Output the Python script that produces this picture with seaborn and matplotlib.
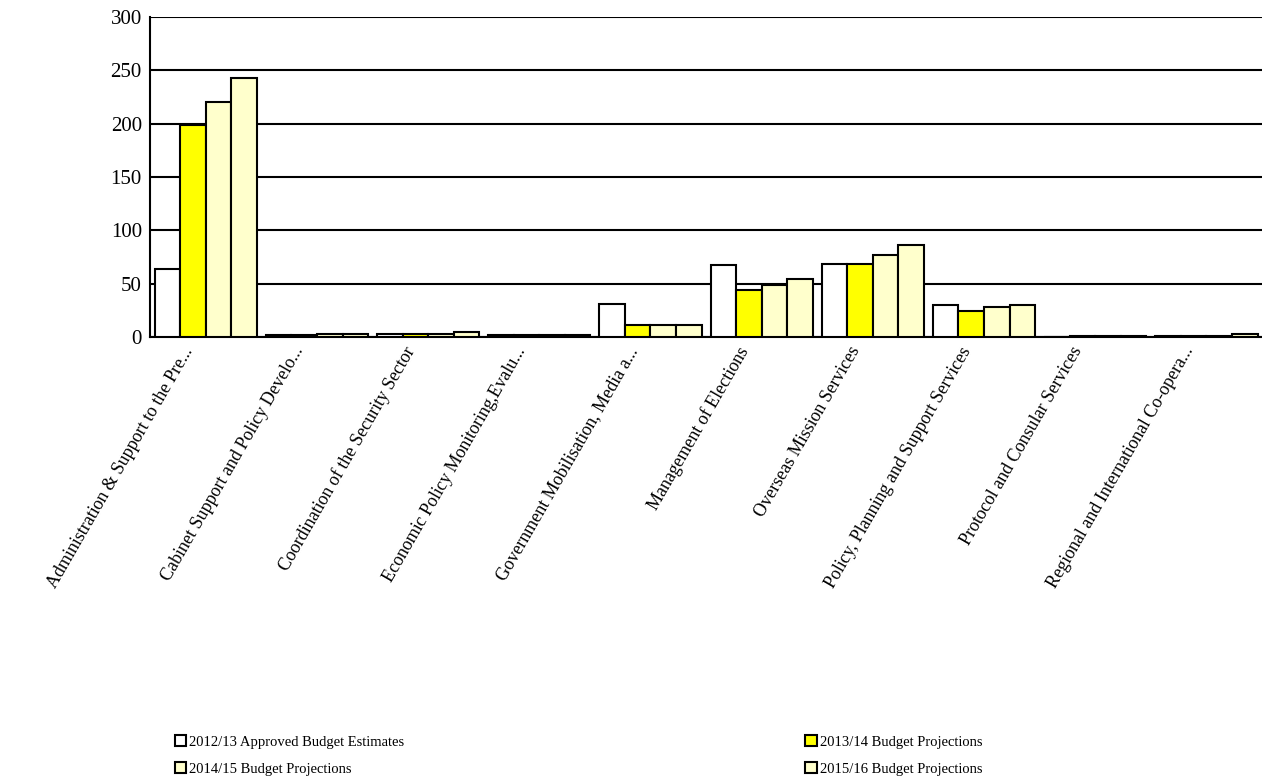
import pandas as pd
import numpy as np
import matplotlib.pyplot as plt
import matplotlib.transforms as mtransforms
import seaborn as sns

# Data
categories = [
    "Administration & Support to the Pre...",
    "Cabinet Support and Policy Develo...",
    "Coordination of the Security Sector",
    "Economic Policy Monitoring,Evalu...",
    "Government Mobilisation, Media a...",
    "Management of Elections",
    "Overseas Mission Services",
    "Policy, Planning and Support Services",
    "Protocol and Consular Services",
    "Regional and International Co-opera...",
]
series = [
    "2012/13 Approved Budget Estimates",
    "2013/14 Budget Projections",
    "2014/15 Budget Projections",
    "2015/16 Budget Projections",
]
est_2012 = [64, 1.5, 3, 1.5, 31, 67, 68, 30, 0, 1]
proj_2013 = [199, 1.5, 3, 1.5, 11, 44, 68, 24, 0.5, 1]
proj_2014 = [220, 3, 3, 1.5, 11, 49, 77, 28, 1, 1]
proj_2015 = [243, 3, 5, 1.5, 11, 54, 86, 30, 1, 3]
colors = ["#FFFFFF", "#FFFF00", "#FFFFCC", "#FFFFCC"]

df = pd.DataFrame({
    "category": np.tile(categories, 4),
    "series": np.repeat(series, len(categories)),
    "value": est_2012 + proj_2013 + proj_2014 + proj_2015,
})

sns.set_style("white")
plt.rcParams["font.family"] = ["Liberation Serif", "DejaVu Serif"]
plt.rcParams["text.color"] = "black"
plt.rcParams["xtick.color"] = "black"
plt.rcParams["ytick.color"] = "black"

fig, ax = plt.subplots(figsize=(12.62, 7.78), dpi=100)
fig.subplots_adjust(left=0.119, right=1.0, top=0.978, bottom=0.567)

sns.barplot(data=df, x="category", y="value", hue="series", palette=colors,
            saturation=1, edgecolor="black", linewidth=1.5, width=0.92, gap=0,
            errorbar=None, ax=ax, zorder=3)

# Legend handles, reordered so rows read across like the original
handles, labels = ax.get_legend_handles_labels()
ax.get_legend().remove()
order = [0, 2, 1, 3]
fig.legend([handles[i] for i in order], [labels[i] for i in order],
           loc="center left", bbox_to_anchor=(0.128, 0.029), ncol=2,
           bbox_transform=fig.transFigure, frameon=False, fontsize=10.5,
           handlelength=0.8, handleheight=0.8, handletextpad=0.2,
           columnspacing=27.5, labelspacing=0.9)

# Axes styling
ax.set_ylim(0, 300)
ax.set_xlim(-0.5, len(categories) - 0.5)
ax.set_yticks(range(0, 301, 50))
ax.yaxis.grid(True, color="black", linewidth=1.5, zorder=0)
ax.set_axisbelow(True)
ax.set_xlabel("")
ax.set_ylabel("")
for side in ["top", "right"]:
    ax.spines[side].set_visible(False)
for side in ["left", "bottom"]:
    ax.spines[side].set_color("black")
    ax.spines[side].set_linewidth(1.5)

ax.tick_params(axis="y", length=5, width=1.5, labelsize=15, pad=1)
ax.set_xticks(np.arange(-0.5, len(categories) + 0.5, 1), minor=True)
ax.tick_params(axis="x", which="minor", length=6, width=1.5, direction="out")
ax.tick_params(axis="x", which="major", length=0, pad=8)
ax.set_xticks(range(len(categories)))
ax.set_xticklabels(categories, rotation=60, ha="right", va="center",
                   rotation_mode="anchor", fontsize=13)
shift = mtransforms.ScaledTranslation(-0.17, 0, fig.dpi_scale_trans)
for lbl in ax.get_xticklabels():
    lbl.set_transform(lbl.get_transform() + shift)

fig.savefig("out.png", dpi=100)
